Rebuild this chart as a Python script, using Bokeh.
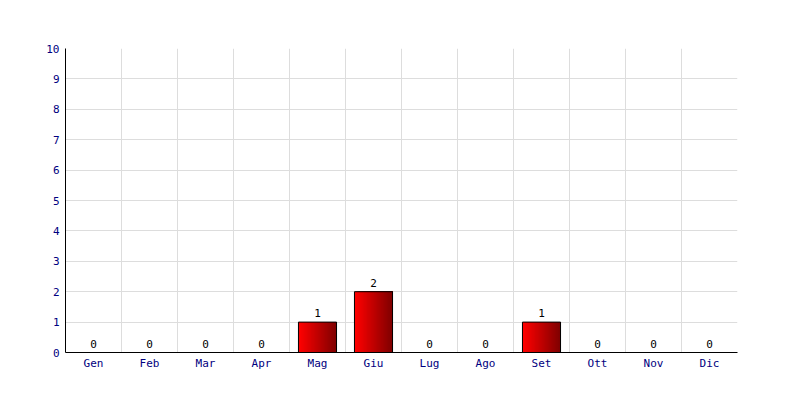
from bokeh.plotting import figure
from bokeh.models import FixedTicker, ColumnDataSource, Range1d
from bokeh.embed import file_html
from bokeh.resources import INLINE
from bokeh.core.properties import value

months = ["Gen", "Feb", "Mar", "Apr", "Mag", "Giu", "Lug", "Ago", "Set", "Ott", "Nov", "Dic"]
counts = [0, 0, 0, 0, 1, 2, 0, 0, 1, 0, 0, 0]
y_ticks = list(range(0, 11))

FONT = "DejaVu Sans Mono"
BAR_W = 0.68
N_STRIPS = 30

p = figure(width=800, height=400, output_backend="svg", toolbar_location=None,
           x_range=Range1d(0, len(months)), y_range=Range1d(0, 10),
           min_border_left=65, min_border_right=63, min_border_top=48, min_border_bottom=48)
p.outline_line_color = None
p.background_fill_color = "white"
p.border_fill_color = "white"

# gradient bars via overlapping strips
def lerp(a, b, t):
    return int(round(a + (b - a) * t))

c0 = (255, 0, 0)
c1 = (128, 0, 0)
l, r, t, b, cols = [], [], [], [], []
for i, v in enumerate(counts):
    if v <= 0:
        continue
    x0 = i + 0.5 - BAR_W / 2
    x1 = i + 0.5 + BAR_W / 2
    dw = BAR_W / N_STRIPS
    for k in range(N_STRIPS):
        f = k / (N_STRIPS - 1)
        col = "#%02x%02x%02x" % tuple(lerp(c0[j], c1[j], f) for j in range(3))
        l.append(x0 + k * dw)
        r.append(x1)
        b.append(0)
        t.append(v)
        cols.append(col)
p.quad(left=l, right=r, bottom=b, top=t, fill_color=cols, line_color=None)

xc = [i + 0.5 for i in range(len(months))]
bars = ColumnDataSource(dict(x=xc, top=counts, lbl=[str(c) for c in counts]))
p.vbar(x="x", top="top", bottom=0, width=BAR_W, source=bars,
       fill_color=None, line_color="black", line_width=1)

p.text(x="x", y="top", text="lbl", source=bars, text_align="center",
       text_baseline="bottom", y_offset=-5, text_font=value(FONT),
       text_font_size="11px", text_color="black")

# axes
p.xaxis.ticker = FixedTicker(ticks=xc)
p.xaxis.major_label_overrides = {x: m for x, m in zip(xc, months)}
p.yaxis.ticker = FixedTicker(ticks=y_ticks)
for ax in (p.xaxis[0], p.yaxis[0]):
    ax.major_tick_line_color = None
    ax.minor_tick_line_color = None
    ax.major_tick_out = 0
    ax.major_tick_in = 0
    ax.axis_line_color = "black"
    ax.axis_line_width = 1
    ax.major_label_text_font = FONT
    ax.major_label_text_font_size = "11px"
    ax.major_label_text_color = "#000080"
p.xaxis.major_label_standoff = 4
p.yaxis.major_label_standoff = 6

p.xgrid.ticker = FixedTicker(ticks=list(range(0, len(months) + 1)))
p.ygrid.ticker = FixedTicker(ticks=y_ticks)
p.xgrid.grid_line_color = "#dddddd"
p.ygrid.grid_line_color = "#dddddd"

open("out.html", "w").write(file_html(p, INLINE))
